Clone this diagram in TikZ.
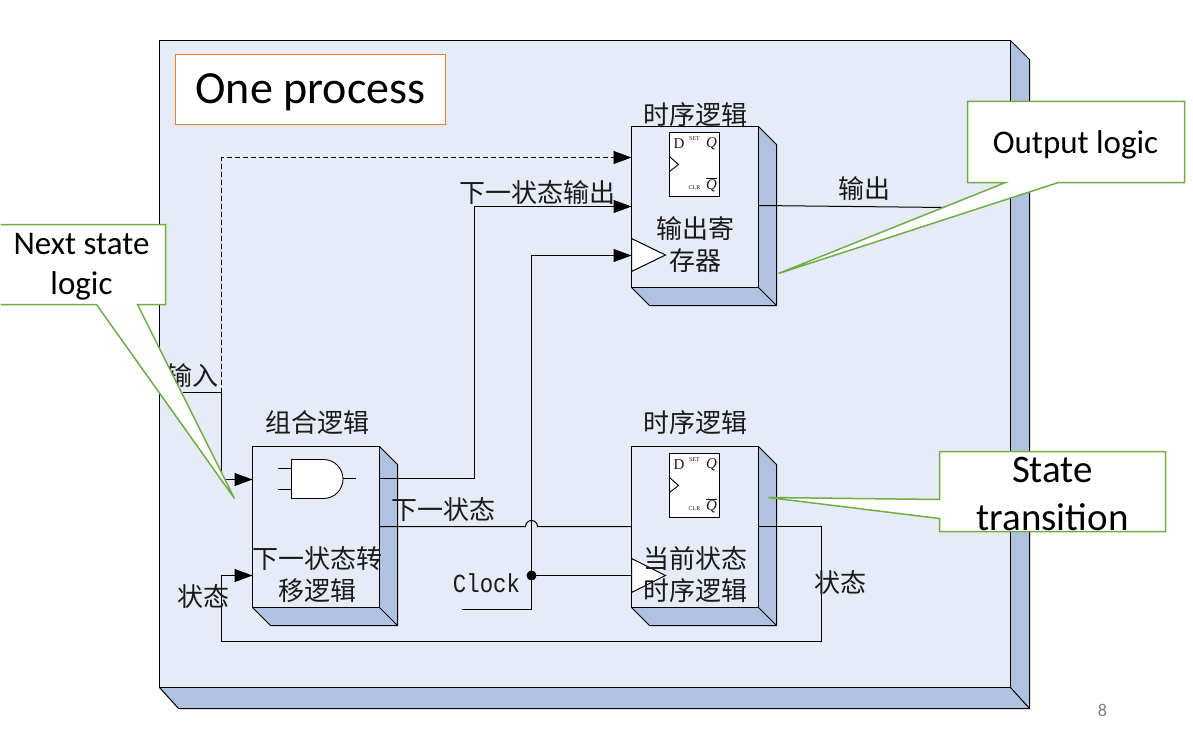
\documentclass[tikz,border=0pt]{standalone}
\usepackage{fontspec}
\usetikzlibrary{arrows.meta}
\setmainfont{Carlito}
\newfontfamily\cjk{Noto Sans CJK SC}
\newfontfamily\monof[FakeStretch=0.86]{Liberation Mono}
\newfontfamily\serf{Liberation Serif}
\definecolor{panel}{HTML}{E6ECF7}
\definecolor{sidec}{HTML}{AFC3E0}
\definecolor{callg}{HTML}{70AD47}
\definecolor{orangeb}{HTML}{ED7D31}
\definecolor{inkc}{HTML}{1A1A1A}
\newcommand{\blockbox}[3]{% name, x-left, y-top
  \fill[sidec] (#2+127,#3) -- (#2+145,#3+18) -- (#2+145,#3+179) -- (#2+18,#3+179) -- (#2,#3+161) -- (#2+127,#3+161) -- cycle;
  \draw[wire] (#2+127,#3) -- (#2+145,#3+18) -- (#2+145,#3+179) -- (#2+18,#3+179) -- (#2,#3+161);
  \draw[wire] (#2+127,#3+161) -- (#2+145,#3+179);
  \node[frontbox,anchor=north west] (#1) at (#2,#3) {};
}
\newcommand{\flipflop}[3]{% name, x-left, y-top
  \node[ffbox,anchor=north west] (#1) at (#2,#3) {};
  \draw[thinw] (#2,#3+24) -- (#2+9,#3+32) -- (#2,#3+39);
  \node[fftext,font=\serf\fontsize{15}{15}\selectfont] (#1d) at (#2+9.5,#3+11) {D};
  \node[fftext,font=\serf\itshape\fontsize{15}{15}\selectfont] (#1q) at (#2+42,#3+11) {Q};
  \node[fftext,font=\serf\itshape\fontsize{15}{15}\selectfont] (#1nq) at (#2+42,#3+52) {$\overline{\mbox{\serf\itshape Q}}$};
  \node[fftext,font=\serf\fontsize{6}{6}\selectfont] (#1s) at (#2+25,#3+6) {SET};
  \node[fftext,font=\serf\fontsize{6}{6}\selectfont] (#1c) at (#2+25,#3+55) {CLR};
}
\tikzset{
  wire/.style={draw=black,line width=1pt,line join=miter},
  thinw/.style={draw=black,line width=0.9pt},
  arrowed/.style={wire,-{Triangle[length=18pt,width=13pt]}},
  frontbox/.style={draw=black,line width=1.2pt,fill=panel,minimum width=127pt,minimum height=161pt,inner sep=0pt,outer sep=0pt},
  ffbox/.style={draw=black,line width=1.1pt,fill=white,minimum width=50pt,minimum height=64pt,inner sep=0pt,outer sep=0pt},
  fftext/.style={inner sep=0pt,text=inkc},
  zh/.style={inner sep=0pt,align=center,text=inkc,font=\cjk\fontsize{26}{32}\selectfont},
  callout/.style={draw=callg,line width=1.5pt,fill=white,line join=miter},
  calltext/.style={inner sep=0pt,align=center,text=black},
  clocktri/.style={wire,fill=white},
}
\begin{document}
\begin{tikzpicture}[x=1pt,y=-1pt]
\useasboundingbox (0,0) rectangle (1193,733);
\begin{scope}[shift={(0.5,0.5)}]
% outer panel
\fill[sidec] (1010,40) -- (1029,59) -- (1029,708) -- (178,708) -- (159,687) -- (1010,687) -- cycle;
\draw[wire] (1010,40) -- (1029,59) -- (1029,708) -- (178,708) -- (159,687);
\draw[wire] (1010,687) -- (1029,708);
\node[draw=black,line width=1.2pt,fill=panel,minimum width=851pt,minimum height=647pt,inner sep=0pt,outer sep=0pt,anchor=north west] (panelfront) at (159,40) {};
% title box
\node[draw=orangeb,line width=1.6pt,fill=white,minimum width=270pt,minimum height=70pt,inner sep=0pt,outer sep=0pt,anchor=north west] (title) at (175,54) {};
\node[inner sep=0pt,font=\fontsize{46}{52}\selectfont] (titletext) at (310,92) {One process};
% blocks
\blockbox{regout}{631}{126}
\blockbox{comb}{252}{446}
\blockbox{regstate}{631}{446}
\flipflop{ffa}{669}{132}
\flipflop{ffb}{669}{453}
% clock triangles
\draw[clocktri] (631,238) -- (665,254.5) -- (631,271) -- cycle;
\draw[clocktri] (631,558) -- (665,575) -- (631,592) -- cycle;
% AND gate
\draw[thinw,fill=white] (291,459) -- (323,459) arc[start angle=90,end angle=-90,radius=19.5,y radius=-19.5] -- (291,498) -- cycle;
\draw[thinw] (277,468) -- (291,468);
\draw[thinw] (277,489) -- (291,489);
\draw[thinw] (342.5,478) -- (355,478);
% named free ends
\coordinate (inputstart) at (182,392);
\coordinate (inputturn) at (221,392);
\coordinate (clockstart) at (461,609);
\coordinate (clockturn) at (531,609);
\coordinate (junction) at (531,575);
\coordinate (outend) at (945,207);
% connectors
\draw[arrowed,dash pattern=on 5pt off 3pt,line width=0.9pt] (inputturn) -- (221,157) -- (regout.west |- 0,157);
\draw[wire] (inputstart) -- (inputturn);
\draw[arrowed] (inputturn) -- (221,479) -- (comb.west |- 0,479);
\draw[arrowed] (comb.east |- 0,478) -- (474,478) -- (474,206) -- (regout.west |- 0,206);
\draw[wire] (clockstart) -- (clockturn) -- (junction);
\draw[arrowed] (junction) -- (531,255) -- (regout.west |- 0,255);
\draw[wire] (junction) -- (regstate.west |- 0,575);
\fill[black] (junction) circle[radius=5];
\draw[wire] (comb.east |- 0,526) -- (525,526) arc[start angle=180,end angle=0,radius=6,y radius=-6] -- (regstate.west |- 0,526);
\draw[arrowed] (regstate.east |- 0,526) -- (821,526) -- (821,641) -- (221,641) -- (221,575) -- (comb.west |- 0,575);
\draw[wire] (regout.east |- 0,205) -- (outend);
% texts
\node[zh] (t1) at (695,114) {时序逻辑};
\node[zh] (t2) at (695,244) {输出寄\\存器};
\node[zh] (t3) at (192,375) {输入};
\node[zh] (t4) at (317,422) {组合逻辑};
\node[zh] (t5) at (537,192) {下一状态输出};
\node[zh] (t6) at (864,188) {输出};
\node[zh] (t7) at (443,509) {下一状态};
\node[zh] (t8) at (317,574) {下一状态转\\移逻辑};
\node[zh] (t9) at (203,596) {状态};
\node[calltext,text=inkc,font=\monof\fontsize{26}{30}\selectfont] (t10) at (486,583) {Clock};
\node[zh] (t11) at (695,422) {时序逻辑};
\node[zh] (t12) at (695,574) {当前状态\\时序逻辑};
\node[zh] (t13) at (840,582) {状态};
% callouts
\draw[callout] (967,101) -- (1184,101) -- (1184,182) -- (1058,182) -- (778,273) -- (1005,182) -- (967,182) -- cycle;
\node[calltext,font=\fontsize{33}{38}\selectfont] (c1) at (1075,144) {Output logic};
\draw[callout] (0,224) -- (165,224) -- (165,304) -- (137,304) -- (234,498) -- (96,304) -- (0,304);
\node[calltext,font=\fontsize{33}{40}\selectfont] (c2) at (81,266) {Next state\\logic};
\draw[callout] (939,451) -- (1165,451) -- (1165,531) -- (939,531) -- (939,518) -- (768,497) -- (939,499) -- cycle;
\node[calltext,font=\fontsize{39}{48}\selectfont] (c3) at (1052,493) {State\\transition};
\node[inner sep=0pt,text=gray,font=\fontsize{18}{20}\selectfont] (pageno) at (1102,710) {8};
\end{scope}
\end{tikzpicture}
\end{document}
